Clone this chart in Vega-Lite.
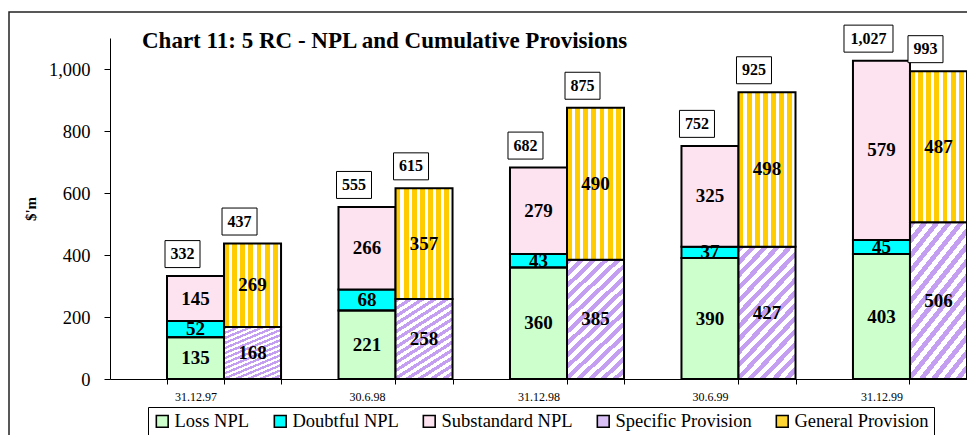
{
  "$schema": "https://vega.github.io/schema/vega-lite/v6.json",
  "width": 958,
  "height": 423,
  "autosize": "none",
  "padding": {"left": 9, "top": 12, "right": 0, "bottom": 0},
  "background": "white",
  "config": {
    "font": "Liberation Serif",
    "view": {"stroke": "#222222", "strokeWidth": 1.5, "strokeDash": [958, 1381, 423]},
    "axis": {"domainColor": "black", "tickColor": "black", "labelColor": "black", "titleColor": "black", "grid": false, "labelFont": "Liberation Serif", "titleFont": "Liberation Serif"},
    "legend": {"labelFont": "Liberation Serif", "titleFont": "Liberation Serif"},
    "text": {"font": "Liberation Serif"}
  },
  "title": {
    "text": "Chart 11: 5 RC - NPL and Cumulative Provisions",
    "anchor": "start",
    "frame": "group",
    "dx": 133,
    "offset": 0,
    "dy": 41,
    "font": "Liberation Serif",
    "fontSize": 23,
    "fontWeight": "bold",
    "color": "black"
  },
  "resolve": {"axis": {"x": "independent"}},
  "datasets": {
    "segs": [
      {"period": "31.12.97", "bar": "NPL", "series": "Loss NPL", "k": 1, "value": 135},
      {"period": "31.12.97", "bar": "NPL", "series": "Doubtful NPL", "k": 2, "value": 52},
      {"period": "31.12.97", "bar": "NPL", "series": "Substandard NPL", "k": 3, "value": 145},
      {"period": "31.12.97", "bar": "Provision", "series": "Specific Provision", "k": 4, "value": 168},
      {"period": "31.12.97", "bar": "Provision", "series": "General Provision", "k": 5, "value": 269},
      {"period": "30.6.98", "bar": "NPL", "series": "Loss NPL", "k": 1, "value": 221},
      {"period": "30.6.98", "bar": "NPL", "series": "Doubtful NPL", "k": 2, "value": 68},
      {"period": "30.6.98", "bar": "NPL", "series": "Substandard NPL", "k": 3, "value": 266},
      {"period": "30.6.98", "bar": "Provision", "series": "Specific Provision", "k": 4, "value": 258},
      {"period": "30.6.98", "bar": "Provision", "series": "General Provision", "k": 5, "value": 357},
      {"period": "31.12.98", "bar": "NPL", "series": "Loss NPL", "k": 1, "value": 360},
      {"period": "31.12.98", "bar": "NPL", "series": "Doubtful NPL", "k": 2, "value": 43},
      {"period": "31.12.98", "bar": "NPL", "series": "Substandard NPL", "k": 3, "value": 279},
      {"period": "31.12.98", "bar": "Provision", "series": "Specific Provision", "k": 4, "value": 385},
      {"period": "31.12.98", "bar": "Provision", "series": "General Provision", "k": 5, "value": 490},
      {"period": "30.6.99", "bar": "NPL", "series": "Loss NPL", "k": 1, "value": 390},
      {"period": "30.6.99", "bar": "NPL", "series": "Doubtful NPL", "k": 2, "value": 37},
      {"period": "30.6.99", "bar": "NPL", "series": "Substandard NPL", "k": 3, "value": 325},
      {"period": "30.6.99", "bar": "Provision", "series": "Specific Provision", "k": 4, "value": 427},
      {"period": "30.6.99", "bar": "Provision", "series": "General Provision", "k": 5, "value": 498},
      {"period": "31.12.99", "bar": "NPL", "series": "Loss NPL", "k": 1, "value": 403},
      {"period": "31.12.99", "bar": "NPL", "series": "Doubtful NPL", "k": 2, "value": 45},
      {"period": "31.12.99", "bar": "NPL", "series": "Substandard NPL", "k": 3, "value": 579},
      {"period": "31.12.99", "bar": "Provision", "series": "Specific Provision", "k": 4, "value": 506},
      {"period": "31.12.99", "bar": "Provision", "series": "General Provision", "k": 5, "value": 487}
    ],
    "totals": [
      {"period": "31.12.97", "bar": "NPL", "total": 332},
      {"period": "31.12.97", "bar": "Provision", "total": 437},
      {"period": "30.6.98", "bar": "NPL", "total": 555},
      {"period": "30.6.98", "bar": "Provision", "total": 615},
      {"period": "31.12.98", "bar": "NPL", "total": 682},
      {"period": "31.12.98", "bar": "Provision", "total": 875},
      {"period": "30.6.99", "bar": "NPL", "total": 752},
      {"period": "30.6.99", "bar": "Provision", "total": 925},
      {"period": "31.12.99", "bar": "NPL", "total": 1027},
      {"period": "31.12.99", "bar": "Provision", "total": 993}
    ]
  },
  "encoding": {
    "x": {
      "field": "period", "type": "nominal", "sort": null,
      "scale": {"domain": ["31.12.97", "30.6.98", "31.12.98", "30.6.99", "31.12.99"], "range": [101, 958], "paddingInner": 0.335, "paddingOuter": 0.1662, "align": 1},
      "axis": null
    },
    "xOffset": {
      "field": "bar", "type": "nominal",
      "scale": {"domain": ["NPL", "Provision"], "paddingInner": 0, "paddingOuter": 0}
    }
  },
  "layer": [
    {
      "data": {"name": "segs"},
      "mark": {"type": "bar"},
      "encoding": {
        "x": {
          "field": "period", "type": "nominal", "sort": null,
          "scale": {"domain": ["31.12.97", "30.6.98", "31.12.98", "30.6.99", "31.12.99"], "range": [101, 958], "paddingInner": 0.335, "paddingOuter": 0.1662, "align": 1},
          "axis": {"title": null, "orient": "bottom", "labelAngle": 0, "labelFontSize": 12, "labelOffset": -28.5, "tickBand": "extent", "tickSize": 5, "labelPadding": 7, "domainWidth": 1, "offset": -56}
        },
        "y": {
          "field": "value", "type": "quantitative", "stack": "zero",
          "scale": {"domain": [0, 1100], "nice": false, "range": [367, 26]},
          "axis": {"title": "$'m", "titleFontSize": 15, "titleFontWeight": "bold", "titlePadding": 10, "values": [0, 200, 400, 600, 800, 1000], "format": ",d", "labelFontSize": 18.5, "tickSize": 6, "labelPadding": 14, "offset": -101}
        },
        "order": {"field": "k", "type": "quantitative"},
        "color": {
          "field": "series", "type": "nominal",
          "scale": {
            "domain": ["Loss NPL", "Doubtful NPL", "Substandard NPL", "Specific Provision", "General Provision"],
            "range": ["#ccffcc", "#00ffff", "#fde2f0", "#d9c0f6", "#ffd633"]
          },
          "legend": {
            "title": null, "orient": "none", "direction": "horizontal", "legendX": 139, "legendY": 395,
            "symbolType": "square", "symbolSize": 140, "labelFontSize": 18.5, "labelFont": "Liberation Serif", "labelColor": "black",
            "labelOffset": 3, "columnPadding": 21, "padding": 5, "strokeColor": "black", "fillColor": "white",
            "symbolOpacity": 1,
            "encode": {"symbols": {"update": {"stroke": {"value": "black"}, "strokeWidth": {"value": 1.6}}}}
          }
        }
      }
    },
    {
      "data": {"name": "segs"},
      "mark": {"type": "bar", "stroke": "black", "strokeWidth": 2},
      "encoding": {
        "x": {
          "field": "period", "type": "nominal", "sort": null,
          "scale": {"domain": ["31.12.97", "30.6.98", "31.12.98", "30.6.99", "31.12.99"], "range": [101, 958], "paddingInner": 0.335, "paddingOuter": 0.1662, "align": 1},
          "axis": {"title": null, "orient": "bottom", "labels": false, "domain": false, "tickBand": "center", "tickSize": 5, "offset": -56}
        },
        "y": {"field": "value", "type": "quantitative", "stack": "zero"},
        "order": {"field": "k", "type": "quantitative"},
        "fill": {
          "condition": [
            {
              "test": "datum.series === 'General Provision'",
              "value": {
                "gradient": "linear", "x1": 0, "y1": 0, "x2": 1, "y2": 0,
                "stops": [
                  {"offset": 0, "color": "#ffcc00"}, {"offset": 0.0857, "color": "#ffcc00"}, {"offset": 0.0857, "color": "#ffffff"}, {"offset": 0.1429, "color": "#ffffff"},
                  {"offset": 0.1429, "color": "#ffcc00"}, {"offset": 0.2286, "color": "#ffcc00"}, {"offset": 0.2286, "color": "#ffffff"}, {"offset": 0.2857, "color": "#ffffff"},
                  {"offset": 0.2857, "color": "#ffcc00"}, {"offset": 0.3714, "color": "#ffcc00"}, {"offset": 0.3714, "color": "#ffffff"}, {"offset": 0.4286, "color": "#ffffff"},
                  {"offset": 0.4286, "color": "#ffcc00"}, {"offset": 0.5143, "color": "#ffcc00"}, {"offset": 0.5143, "color": "#ffffff"}, {"offset": 0.5714, "color": "#ffffff"},
                  {"offset": 0.5714, "color": "#ffcc00"}, {"offset": 0.6571, "color": "#ffcc00"}, {"offset": 0.6571, "color": "#ffffff"}, {"offset": 0.7143, "color": "#ffffff"},
                  {"offset": 0.7143, "color": "#ffcc00"}, {"offset": 0.8, "color": "#ffcc00"}, {"offset": 0.8, "color": "#ffffff"}, {"offset": 0.8571, "color": "#ffffff"},
                  {"offset": 0.8571, "color": "#ffcc00"}, {"offset": 0.9429, "color": "#ffcc00"}, {"offset": 0.9429, "color": "#ffffff"}, {"offset": 1, "color": "#ffffff"}
                ]
              }
            },
            {
              "test": "datum.series === 'Specific Provision'",
              "value": {
                "gradient": "linear", "x1": 0, "y1": 0, "x2": 0.548, "y2": 1.205,
                "stops": [
                  {"offset": 0, "color": "#c49ef0"}, {"offset": 0.0333, "color": "#c49ef0"}, {"offset": 0.0333, "color": "#ffffff"}, {"offset": 0.0667, "color": "#ffffff"},
                  {"offset": 0.0667, "color": "#c49ef0"}, {"offset": 0.1, "color": "#c49ef0"}, {"offset": 0.1, "color": "#ffffff"}, {"offset": 0.1333, "color": "#ffffff"},
                  {"offset": 0.1333, "color": "#c49ef0"}, {"offset": 0.1667, "color": "#c49ef0"}, {"offset": 0.1667, "color": "#ffffff"}, {"offset": 0.2, "color": "#ffffff"},
                  {"offset": 0.2, "color": "#c49ef0"}, {"offset": 0.2333, "color": "#c49ef0"}, {"offset": 0.2333, "color": "#ffffff"}, {"offset": 0.2667, "color": "#ffffff"},
                  {"offset": 0.2667, "color": "#c49ef0"}, {"offset": 0.3, "color": "#c49ef0"}, {"offset": 0.3, "color": "#ffffff"}, {"offset": 0.3333, "color": "#ffffff"},
                  {"offset": 0.3333, "color": "#c49ef0"}, {"offset": 0.3667, "color": "#c49ef0"}, {"offset": 0.3667, "color": "#ffffff"}, {"offset": 0.4, "color": "#ffffff"},
                  {"offset": 0.4, "color": "#c49ef0"}, {"offset": 0.4333, "color": "#c49ef0"}, {"offset": 0.4333, "color": "#ffffff"}, {"offset": 0.4667, "color": "#ffffff"},
                  {"offset": 0.4667, "color": "#c49ef0"}, {"offset": 0.5, "color": "#c49ef0"}, {"offset": 0.5, "color": "#ffffff"}, {"offset": 0.5333, "color": "#ffffff"},
                  {"offset": 0.5333, "color": "#c49ef0"}, {"offset": 0.5667, "color": "#c49ef0"}, {"offset": 0.5667, "color": "#ffffff"}, {"offset": 0.6, "color": "#ffffff"},
                  {"offset": 0.6, "color": "#c49ef0"}, {"offset": 0.6333, "color": "#c49ef0"}, {"offset": 0.6333, "color": "#ffffff"}, {"offset": 0.6667, "color": "#ffffff"},
                  {"offset": 0.6667, "color": "#c49ef0"}, {"offset": 0.7, "color": "#c49ef0"}, {"offset": 0.7, "color": "#ffffff"}, {"offset": 0.7333, "color": "#ffffff"},
                  {"offset": 0.7333, "color": "#c49ef0"}, {"offset": 0.7667, "color": "#c49ef0"}, {"offset": 0.7667, "color": "#ffffff"}, {"offset": 0.8, "color": "#ffffff"},
                  {"offset": 0.8, "color": "#c49ef0"}, {"offset": 0.8333, "color": "#c49ef0"}, {"offset": 0.8333, "color": "#ffffff"}, {"offset": 0.8667, "color": "#ffffff"},
                  {"offset": 0.8667, "color": "#c49ef0"}, {"offset": 0.9, "color": "#c49ef0"}, {"offset": 0.9, "color": "#ffffff"}, {"offset": 0.9333, "color": "#ffffff"},
                  {"offset": 0.9333, "color": "#c49ef0"}, {"offset": 0.9667, "color": "#c49ef0"}, {"offset": 0.9667, "color": "#ffffff"}, {"offset": 1, "color": "#ffffff"}
                ]
              }
            },
            {
              "test": "datum.series === 'Substandard NPL'",
              "value": "#fde2f0"
            }
          ],
          "value": "transparent"
        }
      }
    },
    {
      "data": {"name": "segs"},
      "mark": {"type": "text", "font": "Liberation Serif", "fontWeight": "bold", "fontSize": 19, "baseline": "middle", "color": "black"},
      "encoding": {
        "y": {"field": "value", "type": "quantitative", "stack": "zero", "bandPosition": 0.5},
        "order": {"field": "k", "type": "quantitative"},
        "text": {"field": "value", "type": "quantitative"}
      }
    },
    {
      "data": {"name": "totals"},
      "mark": {"type": "point", "filled": true, "fill": "white", "stroke": "black", "strokeWidth": 1, "opacity": 1, "fillOpacity": 1, "strokeOpacity": 1, "yOffset": -22},
      "encoding": {
        "y": {"field": "total", "type": "quantitative"},
        "shape": {"condition": {"test": "datum.total >= 1000", "value": "M-1.53,-0.551H0.47V0.551H-1.53Z"}, "value": "M-1.743,-0.771H0.257V0.771H-1.743Z"},
        "size": {"condition": {"test": "datum.total >= 1000", "value": 2401}, "value": 1225}
      }
    },
    {
      "data": {"name": "totals"},
      "mark": {"type": "text", "font": "Liberation Serif", "fontWeight": "bold", "fontSize": 16, "baseline": "middle", "color": "black", "dy": -22, "dx": -13},
      "encoding": {
        "y": {"field": "total", "type": "quantitative"},
        "text": {"field": "total", "type": "quantitative", "format": ","}
      }
    }
  ]
}
